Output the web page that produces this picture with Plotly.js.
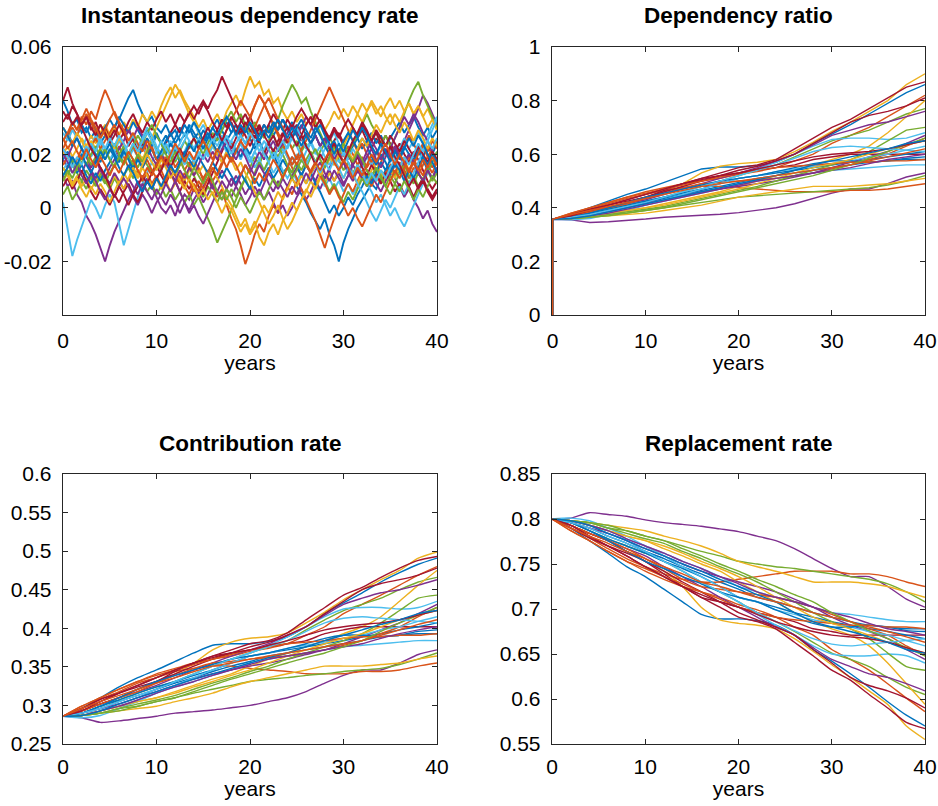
<!DOCTYPE html>
<html><head><meta charset="utf-8">
<script src="https://cdn.plot.ly/plotly-3.0.1.min.js"></script>
<style>html,body{margin:0;padding:0;background:#fff}#chart{width:938px;height:806px}</style>
</head><body><div id="chart"></div>
<script>
const lineColors = ['#0072BD','#D95319','#EDB120','#7E2F8E','#77AC30','#4DBEEE','#A2142F'];
const panelTitles = ['Instantaneous dependency rate','Dependency ratio','Contribution rate','Replacement rate'];
const xTickVals = [0,10,20,30,40];
const xTickText = ['0','10','20','30','40'];
const instTickVals = [-0.02,0,0.02,0.04,0.06];
const instTickText = ['-0.02','0','0.02','0.04','0.06'];
const ratioTickVals = [0,0.2,0.4,0.6,0.8,1];
const ratioTickText = ['0','0.2','0.4','0.6','0.8','1'];
const contribTickVals = [0.25,0.3,0.35,0.4,0.45,0.5,0.55,0.6];
const contribTickText = ['0.25','0.3','0.35','0.4','0.45','0.5','0.55','0.6'];
const replTickVals = [0.55,0.6,0.65,0.7,0.75,0.8,0.85];
const replTickText = ['0.55','0.6','0.65','0.7','0.75','0.8','0.85'];

const instYears = [0,0.5,1,1.5,2,2.5,3,3.5,4,4.5,5,5.5,6,6.5,7,7.5,8,8.5,9,9.5,10,10.5,11,11.5,12,12.5,13,13.5,14,14.5,15,15.5,16,16.5,17,17.5,18,18.5,19,19.5,20,20.5,21,21.5,22,22.5,23,23.5,24,24.5,25,25.5,26,26.5,27,27.5,28,28.5,29,29.5,30,30.5,31,31.5,32,32.5,33,33.5,34,34.5,35,35.5,36,36.5,37,37.5,38,38.5,39,39.5,40];

const instRate = [
[0.04,0.036,0.031,0.033,0.028,0.03,0.026,0.029,0.024,0.027,0.025,0.03,0.033,0.037,0.041,0.044,0.039,0.035,0.032,0.034,0.03,0.028,0.031,0.027,0.029,0.025,0.027,0.03,0.026,0.028,0.024,0.027,0.023,0.026,0.029,0.025,0.028,0.031,0.027,0.024,0.026,0.022,0.025,0.021,0.018,0.02,0.016,0.013,0.015,0.011,0.008,0.005,0.002,-0.002,-0.005,-0.008,-0.004,-0.01,-0.014,-0.02,-0.013,-0.008,-0.004,0,0.003,0.006,0.009,0.007,0.011,0.014,0.012,0.016,0.013,0.017,0.02,0.018,0.022,0.019,0.023,0.02,0.024],
[0.03,0.027,0.032,0.029,0.034,0.031,0.036,0.033,0.039,0.044,0.04,0.035,0.031,0.027,0.03,0.025,0.022,0.026,0.02,0.023,0.018,0.021,0.017,0.02,0.015,0.018,0.014,0.017,0.012,0.015,0.01,0.013,0.008,0.004,0.007,0.001,-0.004,-0.008,-0.014,-0.021,-0.016,-0.01,-0.006,-0.009,-0.003,0.001,-0.002,0.004,0.008,0.005,0.01,0.013,0.009,0.014,0.017,0.013,0.018,0.021,0.017,0.022,0.019,0.023,0.02,0.016,0.019,0.015,0.018,0.014,0.017,0.021,0.018,0.022,0.019,0.023,0.027,0.024,0.02,0.023,0.019,0.022,0.025],
[0.02,0.023,0.019,0.022,0.026,0.023,0.027,0.024,0.028,0.031,0.027,0.03,0.027,0.032,0.029,0.033,0.03,0.035,0.032,0.036,0.033,0.038,0.042,0.045,0.041,0.044,0.04,0.037,0.034,0.03,0.033,0.029,0.032,0.035,0.031,0.036,0.039,0.042,0.038,0.044,0.049,0.045,0.047,0.042,0.044,0.039,0.041,0.036,0.033,0.036,0.032,0.035,0.031,0.034,0.03,0.033,0.029,0.032,0.036,0.033,0.037,0.034,0.038,0.035,0.039,0.036,0.04,0.037,0.034,0.038,0.041,0.037,0.04,0.036,0.039,0.035,0.038,0.034,0.037,0.033,0.031],
[0.012,0.008,0.01,0.005,0.002,-0.003,-0.006,-0.01,-0.015,-0.02,-0.014,-0.009,-0.005,-0.001,0.003,0.006,0.01,0.007,0.011,0.008,0.004,0,-0.002,0.001,-0.003,0.002,0.005,0.003,0.007,0.004,0.008,0.011,0.007,0.01,0.014,0.011,0.008,0.012,0.009,0.005,0.008,0.004,0.007,0.003,0.006,0.002,-0.002,0.001,-0.003,0,0.004,0.007,0.003,0.006,0.01,0.007,0.011,0.014,0.01,0.013,0.009,0.012,0.016,0.013,0.017,0.014,0.01,0.013,0.009,0.012,0.015,0.011,0.008,0.004,0.007,0.003,0,-0.004,-0.001,-0.006,-0.009],
[0.005,0.008,0.003,0.006,0.01,0.007,0.012,0.009,0.013,0.01,0.007,0.011,0.008,0.012,0.015,0.011,0.014,0.01,0.006,0.009,0.005,0.008,0.004,0.007,0.003,0.006,0.002,0.005,0.001,0.004,0,-0.004,-0.008,-0.013,-0.009,-0.005,-0.001,0.003,0.007,0.011,0.015,0.019,0.016,0.021,0.025,0.029,0.033,0.038,0.042,0.046,0.043,0.039,0.041,0.036,0.032,0.028,0.024,0.027,0.022,0.018,0.014,0.017,0.013,0.016,0.012,0.009,0.013,0.01,0.014,0.011,0.015,0.012,0.016,0.013,0.009,0.012,0.008,0.011,0.014,0.01,0.013],
[0.002,-0.008,-0.018,-0.012,-0.007,-0.002,0.003,0,-0.004,0.001,0.005,0.002,-0.006,-0.014,-0.008,-0.002,0.004,0.009,0.013,0.017,0.014,0.018,0.015,0.019,0.022,0.018,0.021,0.025,0.022,0.019,0.023,0.02,0.024,0.021,0.017,0.021,0.025,0.022,0.018,0.022,0.019,0.015,0.018,0.014,0.017,0.021,0.018,0.014,0.011,0.014,0.01,0.013,0.009,0.012,0.016,0.012,0.008,0.011,0.007,0.01,0.006,0.009,0.005,0.008,0.012,0.009,0.006,0.002,0.005,0.001,-0.003,0,-0.004,-0.007,-0.003,0.001,0.005,0.009,0.013,0.017,0.021],
[0.04,0.045,0.039,0.035,0.031,0.034,0.029,0.032,0.027,0.03,0.026,0.029,0.025,0.028,0.023,0.026,0.021,0.024,0.019,0.022,0.018,0.021,0.024,0.028,0.031,0.035,0.032,0.036,0.033,0.037,0.04,0.037,0.041,0.044,0.049,0.045,0.041,0.037,0.033,0.03,0.034,0.03,0.027,0.031,0.028,0.032,0.029,0.033,0.03,0.026,0.029,0.025,0.028,0.024,0.027,0.023,0.026,0.022,0.025,0.028,0.024,0.027,0.03,0.026,0.029,0.025,0.022,0.026,0.023,0.027,0.024,0.021,0.024,0.02,0.017,0.021,0.018,0.014,0.01,0.007,0.01],
[0.025,0.028,0.024,0.027,0.031,0.028,0.032,0.029,0.026,0.03,0.033,0.03,0.034,0.031,0.028,0.032,0.029,0.026,0.029,0.025,0.028,0.024,0.027,0.023,0.026,0.03,0.027,0.031,0.028,0.025,0.029,0.026,0.03,0.033,0.029,0.032,0.028,0.031,0.027,0.03,0.026,0.029,0.025,0.028,0.031,0.027,0.03,0.033,0.029,0.032,0.028,0.031,0.027,0.024,0.027,0.023,0.026,0.022,0.025,0.021,0.024,0.02,0.023,0.026,0.022,0.025,0.028,0.024,0.027,0.023,0.026,0.029,0.032,0.028,0.031,0.034,0.03,0.027,0.03,0.026,0.029],
[0.022,0.026,0.03,0.027,0.031,0.035,0.032,0.028,0.031,0.027,0.024,0.02,0.023,0.019,0.015,0.018,0.014,0.01,0.013,0.009,0.012,0.008,0.011,0.015,0.012,0.016,0.019,0.015,0.018,0.014,0.011,0.014,0.01,0.013,0.017,0.02,0.024,0.021,0.025,0.029,0.033,0.038,0.042,0.039,0.035,0.031,0.027,0.023,0.019,0.015,0.011,0.007,0.003,-0.001,-0.005,-0.01,-0.015,-0.009,-0.004,0.001,0.005,0.009,0.006,0.01,0.014,0.011,0.008,0.012,0.009,0.013,0.016,0.013,0.017,0.014,0.011,0.015,0.012,0.016,0.019,0.015,0.018],
[0.01,0.013,0.009,0.012,0.008,0.011,0.007,0.01,0.014,0.011,0.008,0.012,0.009,0.013,0.01,0.014,0.011,0.015,0.012,0.008,0.011,0.007,0.01,0.006,0.009,0.013,0.01,0.014,0.017,0.013,0.016,0.012,0.015,0.011,0.008,0.004,0.001,-0.003,-0.007,-0.004,-0.009,-0.005,-0.011,-0.014,-0.009,-0.006,-0.01,-0.005,-0.002,0.002,-0.001,0.003,0.007,0.004,0.008,0.012,0.009,0.013,0.01,0.014,0.011,0.015,0.012,0.009,0.013,0.01,0.014,0.017,0.013,0.01,0.014,0.011,0.015,0.018,0.014,0.017,0.013,0.01,0.014,0.011,0.015],
[0.018,0.015,0.019,0.016,0.013,0.017,0.014,0.011,0.015,0.012,0.009,0.013,0.01,0.007,0.011,0.008,0.005,0.009,0.006,0.003,0.007,0.004,0.001,0.005,0.002,-0.002,0.002,-0.001,0.003,0.006,0.002,0.005,0.009,0.006,0.01,0.007,0.004,0.008,0.005,0.001,0.004,0.008,0.005,0.009,0.013,0.01,0.007,0.011,0.008,0.012,0.015,0.012,0.016,0.013,0.01,0.014,0.011,0.015,0.018,0.014,0.017,0.013,0.01,0.014,0.011,0.008,0.012,0.009,0.006,0.01,0.013,0.017,0.021,0.025,0.029,0.033,0.037,0.042,0.039,0.035,0.031],
[0.015,0.012,0.016,0.013,0.01,0.014,0.011,0.008,0.012,0.009,0.013,0.016,0.02,0.017,0.021,0.018,0.015,0.019,0.016,0.013,0.017,0.014,0.018,0.015,0.012,0.016,0.019,0.015,0.012,0.008,0.004,0.008,0.005,0.002,0.006,0.003,0.007,0.004,0.008,0.011,0.007,0.013,0.017,0.014,0.018,0.022,0.019,0.023,0.026,0.022,0.025,0.021,0.024,0.02,0.017,0.021,0.024,0.02,0.016,0.02,0.017,0.02,0.024,0.027,0.031,0.035,0.031,0.028,0.024,0.027,0.023,0.026,0.03,0.035,0.04,0.044,0.047,0.042,0.038,0.034,0.03],
[0.028,0.025,0.029,0.026,0.022,0.026,0.023,0.027,0.024,0.02,0.024,0.021,0.025,0.022,0.018,0.022,0.019,0.023,0.02,0.017,0.021,0.018,0.022,0.025,0.021,0.024,0.028,0.025,0.022,0.026,0.023,0.019,0.023,0.02,0.024,0.027,0.023,0.02,0.024,0.021,0.017,0.021,0.018,0.022,0.025,0.021,0.018,0.022,0.019,0.016,0.02,0.017,0.021,0.024,0.02,0.023,0.019,0.016,0.02,0.017,0.021,0.018,0.022,0.019,0.015,0.019,0.016,0.02,0.023,0.019,0.022,0.018,0.022,0.026,0.022,0.025,0.028,0.024,0.027,0.031,0.034],
[0.008,0.011,0.007,0.01,0.014,0.01,0.006,0.003,0.007,0.004,0.001,0.005,0.002,0.006,0.009,0.005,0.008,0.012,0.009,0.013,0.016,0.012,0.009,0.013,0.01,0.006,0.01,0.007,0.011,0.008,0.005,0.009,0.013,0.017,0.021,0.025,0.022,0.026,0.03,0.027,0.023,0.027,0.024,0.02,0.024,0.021,0.025,0.028,0.024,0.028,0.031,0.027,0.031,0.034,0.03,0.033,0.029,0.026,0.03,0.027,0.023,0.02,0.016,0.019,0.015,0.012,0.016,0.013,0.009,0.013,0.01,0.006,0.009,0.005,0.008,0.004,0.008,0.011,0.007,0.004,0.007],
[0.018,0.021,0.017,0.013,0.016,0.012,0.009,0.013,0.01,0.014,0.017,0.021,0.018,0.022,0.019,0.015,0.019,0.022,0.026,0.023,0.027,0.024,0.02,0.024,0.021,0.017,0.021,0.018,0.015,0.019,0.016,0.013,0.017,0.014,0.011,0.015,0.012,0.009,0.013,0.01,0.007,0.011,0.008,0.012,0.015,0.011,0.014,0.018,0.015,0.019,0.016,0.012,0.016,0.013,0.009,0.006,0.002,-0.002,0.001,-0.003,0,0.004,0.001,0.005,0.008,0.012,0.009,0.013,0.017,0.014,0.018,0.022,0.019,0.023,0.02,0.017,0.021,0.018,0.014,0.011,0.015],
[0.016,0.019,0.015,0.018,0.022,0.019,0.023,0.026,0.022,0.025,0.028,0.031,0.027,0.024,0.02,0.023,0.019,0.015,0.018,0.014,0.011,0.014,0.01,0.013,0.009,0.012,0.008,0.005,0.009,0.006,0.01,0.013,0.017,0.021,0.025,0.029,0.033,0.036,0.04,0.037,0.034,0.038,0.042,0.039,0.035,0.031,0.028,0.024,0.02,0.016,0.019,0.022,0.025,0.029,0.033,0.037,0.041,0.045,0.041,0.037,0.033,0.029,0.025,0.021,0.024,0.02,0.017,0.021,0.018,0.022,0.019,0.023,0.02,0.017,0.014,0.018,0.015,0.012,0.016,0.013,0.017],
[0.03,0.027,0.024,0.028,0.025,0.021,0.025,0.022,0.026,0.029,0.025,0.022,0.026,0.023,0.02,0.024,0.021,0.018,0.022,0.026,0.03,0.034,0.038,0.042,0.046,0.043,0.039,0.035,0.032,0.028,0.025,0.021,0.024,0.02,0.017,0.021,0.018,0.014,0.017,0.013,0.01,0.006,0.002,-0.002,-0.006,-0.003,0.001,-0.004,-0.008,-0.005,-0.001,0.003,0.006,0.01,0.007,0.011,0.015,0.018,0.022,0.019,0.023,0.027,0.031,0.035,0.032,0.036,0.039,0.035,0.038,0.034,0.031,0.035,0.032,0.036,0.039,0.035,0.038,0.034,0.03,0.033,0.029],
[0.022,0.019,0.023,0.026,0.022,0.019,0.015,0.018,0.014,0.011,0.015,0.018,0.022,0.025,0.029,0.026,0.03,0.027,0.023,0.019,0.016,0.02,0.017,0.013,0.01,0.006,0.002,-0.002,0.001,-0.003,-0.006,-0.002,0.002,0.006,0.003,0.007,0.011,0.008,0.012,0.016,0.013,0.017,0.021,0.018,0.022,0.025,0.021,0.024,0.028,0.031,0.027,0.03,0.034,0.031,0.027,0.023,0.026,0.022,0.018,0.021,0.017,0.013,0.017,0.02,0.016,0.019,0.022,0.018,0.015,0.019,0.022,0.026,0.03,0.034,0.031,0.035,0.032,0.028,0.025,0.021,0.018],
[0.012,0.015,0.018,0.014,0.017,0.02,0.016,0.019,0.022,0.018,0.021,0.024,0.02,0.023,0.019,0.016,0.02,0.017,0.021,0.025,0.022,0.019,0.023,0.02,0.017,0.021,0.025,0.022,0.026,0.023,0.02,0.024,0.028,0.025,0.029,0.033,0.036,0.032,0.035,0.031,0.028,0.032,0.029,0.026,0.03,0.027,0.023,0.02,0.016,0.013,0.017,0.014,0.018,0.021,0.017,0.013,0.01,0.006,0.009,0.005,0.002,0.006,0.003,0.007,0.011,0.008,0.012,0.015,0.011,0.008,0.012,0.009,0.013,0.016,0.012,0.009,0.013,0.01,0.014,0.017,0.021],
[0.014,0.017,0.013,0.016,0.02,0.023,0.019,0.022,0.026,0.022,0.018,0.021,0.017,0.02,0.024,0.027,0.023,0.026,0.03,0.027,0.023,0.02,0.024,0.021,0.018,0.022,0.025,0.029,0.032,0.028,0.031,0.027,0.024,0.028,0.024,0.021,0.025,0.028,0.024,0.02,0.017,0.021,0.024,0.02,0.017,0.013,0.016,0.02,0.023,0.027,0.03,0.026,0.022,0.025,0.021,0.018,0.022,0.025,0.028,0.024,0.02,0.017,0.013,0.009,0.006,0.002,-0.002,-0.005,-0.001,0.003,0,0.004,0.008,0.005,0.009,0.013,0.017,0.021,0.025,0.029,0.033],
[0.036,0.033,0.038,0.035,0.031,0.034,0.03,0.027,0.031,0.028,0.024,0.027,0.031,0.028,0.032,0.035,0.031,0.028,0.032,0.029,0.033,0.036,0.032,0.035,0.031,0.028,0.032,0.035,0.038,0.035,0.039,0.036,0.032,0.029,0.033,0.03,0.034,0.031,0.028,0.032,0.029,0.026,0.03,0.027,0.031,0.035,0.032,0.029,0.033,0.03,0.034,0.037,0.034,0.031,0.035,0.032,0.028,0.025,0.029,0.026,0.03,0.033,0.03,0.027,0.031,0.028,0.025,0.029,0.026,0.023,0.027,0.024,0.021,0.025,0.022,0.019,0.023,0.02,0.017,0.021,0.018],
[0.03,0.027,0.023,0.026,0.022,0.019,0.023,0.02,0.017,0.021,0.024,0.02,0.017,0.021,0.018,0.014,0.018,0.015,0.019,0.022,0.018,0.021,0.025,0.028,0.024,0.027,0.031,0.028,0.032,0.029,0.025,0.028,0.024,0.021,0.025,0.022,0.018,0.022,0.019,0.023,0.02,0.024,0.027,0.031,0.028,0.032,0.029,0.033,0.03,0.026,0.03,0.033,0.029,0.026,0.03,0.027,0.023,0.02,0.024,0.021,0.025,0.028,0.025,0.022,0.026,0.023,0.019,0.016,0.02,0.017,0.013,0.017,0.014,0.01,0.014,0.011,0.015,0.019,0.016,0.02,0.017],
[0.025,0.028,0.032,0.029,0.033,0.037,0.033,0.03,0.026,0.029,0.033,0.036,0.032,0.029,0.025,0.028,0.024,0.021,0.025,0.022,0.018,0.015,0.019,0.016,0.012,0.009,0.013,0.01,0.006,0.01,0.007,0.011,0.015,0.012,0.016,0.02,0.017,0.021,0.025,0.022,0.026,0.03,0.034,0.038,0.041,0.037,0.033,0.03,0.026,0.022,0.018,0.021,0.017,0.013,0.016,0.012,0.009,0.005,0.008,0.004,0.001,-0.003,0,-0.004,-0.007,-0.003,0.001,0.005,0.002,0.006,0.01,0.014,0.011,0.015,0.019,0.016,0.02,0.024,0.021,0.025,0.022],
[0.015,0.012,0.008,0.011,0.007,0.004,0.008,0.005,0.009,0.006,0.002,0.006,0.01,0.007,0.011,0.015,0.012,0.016,0.02,0.017,0.014,0.018,0.015,0.011,0.014,0.01,0.007,0.011,0.008,0.004,0.007,0.003,0.006,0.002,-0.002,0.002,-0.001,-0.005,-0.009,-0.006,-0.01,-0.007,-0.003,0.001,-0.002,0.002,0.006,0.003,0.007,0.011,0.008,0.012,0.009,0.013,0.016,0.012,0.015,0.019,0.016,0.02,0.017,0.021,0.018,0.022,0.026,0.023,0.027,0.031,0.028,0.032,0.035,0.031,0.028,0.032,0.029,0.025,0.029,0.026,0.022,0.026,0.023],
[0.02,0.017,0.013,0.016,0.012,0.009,0.013,0.01,0.006,0.003,0.007,0.004,0.008,0.011,0.008,0.004,0.001,0.005,0.002,-0.002,0.002,0.005,0.009,0.006,0.01,0.014,0.011,0.015,0.012,0.016,0.02,0.017,0.021,0.018,0.022,0.025,0.021,0.018,0.022,0.019,0.015,0.012,0.016,0.013,0.009,0.006,0.01,0.007,0.004,0.008,0.005,0.009,0.013,0.01,0.014,0.017,0.013,0.01,0.014,0.011,0.008,0.012,0.016,0.02,0.017,0.021,0.025,0.022,0.018,0.022,0.019,0.023,0.019,0.016,0.02,0.017,0.013,0.01,0.014,0.011,0.015],
[0.01,0.014,0.011,0.015,0.019,0.016,0.02,0.023,0.019,0.022,0.018,0.015,0.019,0.016,0.02,0.023,0.027,0.024,0.028,0.031,0.027,0.024,0.02,0.017,0.021,0.018,0.014,0.011,0.015,0.012,0.009,0.013,0.01,0.006,0.003,0.007,0.004,0,0.004,0.001,-0.002,0.002,0.006,0.003,0.007,0.011,0.008,0.012,0.015,0.011,0.014,0.018,0.015,0.019,0.022,0.018,0.015,0.019,0.023,0.02,0.024,0.02,0.017,0.021,0.018,0.014,0.011,0.015,0.012,0.008,0.005,0.009,0.006,0.01,0.007,0.003,0.007,0.004,0.008,0.012,0.009],
[0.022,0.019,0.015,0.019,0.016,0.02,0.024,0.021,0.025,0.022,0.026,0.023,0.027,0.024,0.02,0.024,0.021,0.025,0.028,0.025,0.021,0.025,0.022,0.019,0.023,0.02,0.016,0.02,0.017,0.021,0.018,0.022,0.026,0.023,0.027,0.024,0.02,0.024,0.027,0.024,0.028,0.025,0.021,0.025,0.022,0.018,0.022,0.025,0.022,0.026,0.023,0.019,0.016,0.02,0.017,0.013,0.017,0.014,0.018,0.015,0.011,0.015,0.012,0.016,0.013,0.009,0.013,0.01,0.014,0.011,0.015,0.018,0.015,0.019,0.016,0.02,0.024,0.021,0.025,0.022,0.026],
[0.032,0.035,0.031,0.034,0.03,0.026,0.022,0.019,0.015,0.012,0.008,0.004,0.008,0.005,0.001,0.005,0.002,0.006,0.01,0.007,0.011,0.014,0.018,0.015,0.019,0.022,0.019,0.023,0.026,0.022,0.026,0.03,0.026,0.029,0.025,0.029,0.032,0.028,0.032,0.035,0.031,0.028,0.031,0.027,0.024,0.027,0.023,0.027,0.03,0.027,0.023,0.027,0.023,0.02,0.016,0.02,0.017,0.021,0.024,0.02,0.017,0.021,0.025,0.028,0.032,0.029,0.025,0.028,0.024,0.02,0.023,0.019,0.016,0.012,0.008,0.011,0.007,0.01,0.006,0.003,0.006],
[0.012,0.015,0.019,0.016,0.02,0.016,0.013,0.017,0.021,0.018,0.022,0.019,0.015,0.012,0.016,0.013,0.009,0.006,0.01,0.007,0.011,0.008,0.012,0.016,0.013,0.017,0.02,0.024,0.021,0.025,0.022,0.026,0.03,0.027,0.031,0.034,0.031,0.027,0.031,0.028,0.032,0.029,0.025,0.029,0.026,0.03,0.033,0.029,0.026,0.03,0.027,0.023,0.027,0.024,0.028,0.031,0.027,0.024,0.02,0.024,0.021,0.025,0.029,0.026,0.03,0.027,0.023,0.02,0.024,0.021,0.017,0.021,0.018,0.022,0.026,0.023,0.027,0.024,0.02,0.017,0.013],
[0.026,0.022,0.025,0.021,0.018,0.022,0.018,0.015,0.019,0.016,0.012,0.016,0.013,0.017,0.021,0.018,0.014,0.011,0.015,0.012,0.016,0.019,0.016,0.02,0.024,0.021,0.017,0.021,0.018,0.022,0.025,0.022,0.018,0.022,0.019,0.015,0.019,0.016,0.012,0.016,0.013,0.009,0.013,0.01,0.014,0.018,0.015,0.011,0.015,0.019,0.016,0.02,0.016,0.013,0.017,0.014,0.018,0.021,0.017,0.014,0.018,0.015,0.011,0.015,0.012,0.016,0.02,0.017,0.021,0.024,0.02,0.016,0.02,0.017,0.013,0.017,0.014,0.018,0.015,0.019,0.016]
];

const ratioYears = [0,0,2,4,6,8,10,12,14,16,18,20,22,24,26,28,30,32,34,36,38,40];
const dependencyRatio = [
[0,0.357,0.375,0.40,0.425,0.45,0.47,0.495,0.52,0.545,0.552,0.552,0.558,0.57,0.60,0.64,0.675,0.71,0.75,0.79,0.83,0.86],
[0,0.357,0.38,0.40,0.42,0.44,0.46,0.475,0.49,0.50,0.51,0.525,0.535,0.55,0.575,0.60,0.64,0.67,0.70,0.74,0.78,0.82],
[0,0.357,0.37,0.385,0.40,0.42,0.44,0.46,0.49,0.53,0.555,0.565,0.57,0.58,0.61,0.645,0.685,0.72,0.76,0.80,0.86,0.90],
[0,0.357,0.355,0.345,0.348,0.352,0.358,0.365,0.368,0.372,0.376,0.382,0.39,0.40,0.415,0.435,0.455,0.47,0.47,0.49,0.515,0.53],
[0,0.357,0.365,0.38,0.395,0.41,0.425,0.44,0.46,0.48,0.50,0.52,0.54,0.56,0.59,0.62,0.65,0.67,0.69,0.72,0.75,0.77],
[0,0.357,0.36,0.37,0.385,0.40,0.42,0.44,0.46,0.48,0.50,0.52,0.545,0.57,0.60,0.63,0.655,0.66,0.66,0.655,0.66,0.68],
[0,0.357,0.375,0.39,0.41,0.43,0.45,0.47,0.49,0.51,0.53,0.55,0.56,0.58,0.62,0.66,0.70,0.73,0.77,0.81,0.85,0.87],
[0,0.357,0.365,0.375,0.39,0.405,0.42,0.435,0.45,0.465,0.48,0.495,0.51,0.52,0.53,0.54,0.55,0.56,0.57,0.575,0.585,0.59],
[0,0.357,0.375,0.395,0.415,0.435,0.45,0.465,0.475,0.48,0.48,0.475,0.47,0.465,0.46,0.46,0.46,0.465,0.465,0.47,0.48,0.49],
[0,0.357,0.36,0.37,0.38,0.39,0.40,0.415,0.43,0.445,0.46,0.48,0.50,0.52,0.54,0.56,0.58,0.60,0.63,0.68,0.74,0.80],
[0,0.357,0.37,0.385,0.40,0.415,0.43,0.45,0.47,0.49,0.51,0.53,0.55,0.575,0.60,0.635,0.67,0.69,0.71,0.72,0.74,0.76],
[0,0.357,0.36,0.365,0.375,0.38,0.39,0.40,0.41,0.42,0.43,0.44,0.445,0.45,0.455,0.46,0.465,0.47,0.475,0.485,0.50,0.52],
[0,0.357,0.355,0.36,0.375,0.39,0.41,0.425,0.44,0.455,0.47,0.49,0.50,0.51,0.52,0.53,0.54,0.545,0.55,0.555,0.56,0.56],
[0,0.357,0.37,0.385,0.40,0.42,0.44,0.465,0.49,0.51,0.52,0.53,0.54,0.55,0.56,0.58,0.59,0.60,0.60,0.60,0.60,0.60],
[0,0.357,0.365,0.38,0.395,0.41,0.425,0.44,0.455,0.47,0.49,0.51,0.52,0.53,0.54,0.55,0.56,0.57,0.58,0.59,0.60,0.61],
[0,0.357,0.37,0.385,0.40,0.415,0.435,0.455,0.475,0.49,0.495,0.50,0.505,0.51,0.52,0.53,0.545,0.56,0.58,0.60,0.63,0.66],
[0,0.357,0.36,0.365,0.37,0.375,0.38,0.39,0.40,0.41,0.425,0.44,0.45,0.46,0.47,0.48,0.48,0.48,0.485,0.49,0.50,0.51],
[0,0.357,0.365,0.375,0.385,0.40,0.415,0.43,0.445,0.46,0.47,0.48,0.49,0.50,0.515,0.53,0.55,0.57,0.59,0.61,0.64,0.67],
[0,0.357,0.36,0.365,0.375,0.385,0.395,0.405,0.42,0.435,0.45,0.465,0.48,0.50,0.52,0.54,0.56,0.58,0.61,0.65,0.69,0.70],
[0,0.357,0.36,0.37,0.38,0.395,0.41,0.43,0.45,0.47,0.49,0.51,0.52,0.535,0.545,0.555,0.565,0.575,0.59,0.60,0.615,0.63],
[0,0.357,0.375,0.395,0.41,0.425,0.44,0.46,0.48,0.50,0.52,0.54,0.555,0.575,0.60,0.64,0.68,0.72,0.745,0.76,0.78,0.81],
[0,0.357,0.365,0.38,0.40,0.42,0.44,0.455,0.47,0.485,0.50,0.51,0.52,0.535,0.55,0.565,0.575,0.575,0.57,0.575,0.58,0.58],
[0,0.357,0.38,0.40,0.42,0.44,0.455,0.47,0.485,0.50,0.515,0.53,0.54,0.55,0.555,0.56,0.565,0.57,0.57,0.575,0.575,0.58],
[0,0.357,0.36,0.37,0.38,0.39,0.40,0.41,0.425,0.44,0.455,0.47,0.49,0.51,0.53,0.55,0.565,0.58,0.60,0.62,0.635,0.65],
[0,0.357,0.36,0.37,0.38,0.395,0.41,0.425,0.44,0.455,0.47,0.485,0.50,0.51,0.52,0.53,0.54,0.55,0.565,0.58,0.59,0.60],
[0,0.357,0.36,0.365,0.37,0.38,0.39,0.40,0.415,0.43,0.445,0.46,0.475,0.49,0.505,0.52,0.54,0.56,0.585,0.61,0.635,0.66],
[0,0.357,0.365,0.375,0.39,0.405,0.42,0.44,0.46,0.48,0.50,0.52,0.54,0.56,0.585,0.61,0.625,0.63,0.625,0.62,0.615,0.61],
[0,0.357,0.37,0.39,0.41,0.43,0.45,0.47,0.49,0.505,0.52,0.53,0.545,0.56,0.575,0.59,0.60,0.605,0.61,0.62,0.635,0.65],
[0,0.357,0.36,0.37,0.385,0.40,0.415,0.43,0.445,0.46,0.475,0.49,0.505,0.52,0.54,0.56,0.575,0.59,0.605,0.62,0.64,0.65],
[0,0.357,0.375,0.39,0.405,0.42,0.435,0.45,0.465,0.48,0.49,0.50,0.51,0.52,0.53,0.54,0.55,0.56,0.575,0.59,0.605,0.62]
];

const years = [0,2,4,6,8,10,12,14,16,18,20,22,24,26,28,30,32,34,36,38,40];
const contributionRate = [
[0.286,0.296,0.310,0.324,0.336,0.346,0.357,0.368,0.378,0.380,0.380,0.383,0.389,0.402,0.419,0.433,0.446,0.460,0.472,0.483,0.491],
[0.286,0.299,0.310,0.321,0.331,0.341,0.348,0.355,0.360,0.364,0.370,0.374,0.380,0.391,0.402,0.419,0.431,0.443,0.456,0.469,0.480],
[0.286,0.293,0.302,0.310,0.321,0.331,0.341,0.355,0.372,0.382,0.387,0.389,0.394,0.407,0.421,0.437,0.450,0.463,0.475,0.491,0.499],
[0.286,0.284,0.278,0.280,0.283,0.286,0.290,0.292,0.294,0.297,0.300,0.305,0.310,0.318,0.329,0.339,0.346,0.346,0.355,0.366,0.372],
[0.286,0.290,0.299,0.307,0.316,0.324,0.331,0.341,0.351,0.360,0.368,0.376,0.384,0.398,0.411,0.423,0.431,0.439,0.450,0.460,0.466],
[0.286,0.287,0.293,0.302,0.310,0.321,0.331,0.341,0.351,0.360,0.368,0.378,0.389,0.402,0.415,0.425,0.427,0.427,0.425,0.427,0.435],
[0.286,0.296,0.305,0.316,0.326,0.336,0.346,0.355,0.364,0.372,0.380,0.384,0.394,0.411,0.427,0.443,0.453,0.466,0.478,0.488,0.493],
[0.286,0.290,0.296,0.305,0.313,0.321,0.329,0.336,0.344,0.351,0.357,0.364,0.368,0.372,0.376,0.380,0.384,0.389,0.391,0.396,0.398],
[0.286,0.296,0.308,0.318,0.329,0.336,0.344,0.348,0.351,0.351,0.348,0.346,0.344,0.341,0.341,0.341,0.344,0.344,0.346,0.351,0.355],
[0.286,0.287,0.293,0.299,0.305,0.310,0.318,0.326,0.334,0.341,0.351,0.360,0.368,0.376,0.384,0.393,0.402,0.415,0.435,0.456,0.475],
[0.286,0.293,0.302,0.310,0.318,0.326,0.336,0.346,0.355,0.364,0.372,0.380,0.391,0.402,0.417,0.431,0.439,0.446,0.450,0.456,0.463],
[0.286,0.287,0.290,0.296,0.299,0.305,0.310,0.316,0.321,0.326,0.331,0.334,0.336,0.339,0.341,0.344,0.346,0.348,0.353,0.360,0.368],
[0.286,0.284,0.287,0.296,0.305,0.316,0.324,0.331,0.339,0.346,0.355,0.360,0.364,0.368,0.372,0.376,0.378,0.380,0.382,0.384,0.384],
[0.286,0.293,0.302,0.310,0.321,0.331,0.344,0.355,0.364,0.368,0.372,0.376,0.380,0.384,0.393,0.398,0.402,0.402,0.402,0.402,0.402],
[0.286,0.290,0.299,0.307,0.316,0.324,0.331,0.339,0.346,0.355,0.364,0.368,0.372,0.376,0.380,0.384,0.389,0.393,0.398,0.402,0.407],
[0.286,0.293,0.302,0.310,0.318,0.329,0.339,0.348,0.355,0.357,0.360,0.362,0.364,0.368,0.372,0.378,0.384,0.393,0.402,0.415,0.427],
[0.286,0.287,0.290,0.293,0.296,0.299,0.305,0.310,0.316,0.324,0.331,0.336,0.341,0.346,0.351,0.351,0.351,0.353,0.355,0.360,0.364],
[0.286,0.290,0.296,0.302,0.310,0.318,0.326,0.334,0.341,0.346,0.351,0.355,0.360,0.366,0.372,0.380,0.389,0.398,0.407,0.419,0.431],
[0.286,0.287,0.290,0.296,0.302,0.307,0.313,0.321,0.329,0.336,0.344,0.351,0.360,0.368,0.376,0.384,0.393,0.407,0.423,0.439,0.443],
[0.286,0.287,0.293,0.299,0.307,0.316,0.326,0.336,0.346,0.355,0.364,0.368,0.374,0.378,0.382,0.387,0.391,0.398,0.402,0.409,0.415],
[0.286,0.296,0.308,0.316,0.324,0.331,0.341,0.351,0.360,0.368,0.376,0.382,0.391,0.402,0.419,0.435,0.450,0.458,0.463,0.469,0.478],
[0.286,0.290,0.299,0.310,0.321,0.331,0.339,0.346,0.353,0.360,0.364,0.368,0.374,0.380,0.387,0.391,0.391,0.389,0.391,0.393,0.393],
[0.286,0.299,0.310,0.321,0.331,0.339,0.346,0.353,0.360,0.366,0.372,0.376,0.380,0.382,0.384,0.387,0.389,0.389,0.391,0.391,0.393],
[0.286,0.287,0.293,0.299,0.305,0.310,0.316,0.324,0.331,0.339,0.346,0.355,0.364,0.372,0.380,0.387,0.393,0.402,0.411,0.417,0.423],
[0.286,0.287,0.293,0.299,0.307,0.316,0.324,0.331,0.339,0.346,0.353,0.360,0.364,0.368,0.372,0.376,0.380,0.387,0.393,0.398,0.402],
[0.286,0.287,0.290,0.293,0.299,0.305,0.310,0.318,0.326,0.334,0.341,0.348,0.355,0.362,0.368,0.376,0.384,0.396,0.407,0.417,0.427],
[0.286,0.290,0.296,0.305,0.313,0.321,0.331,0.341,0.351,0.360,0.368,0.376,0.384,0.396,0.407,0.413,0.415,0.413,0.411,0.409,0.407],
[0.286,0.293,0.305,0.316,0.326,0.336,0.346,0.355,0.362,0.368,0.372,0.378,0.384,0.391,0.398,0.402,0.405,0.407,0.411,0.417,0.423],
[0.286,0.287,0.293,0.302,0.310,0.318,0.326,0.334,0.341,0.348,0.355,0.362,0.368,0.376,0.384,0.391,0.398,0.405,0.411,0.419,0.423],
[0.286,0.296,0.305,0.313,0.321,0.329,0.336,0.344,0.351,0.355,0.360,0.364,0.368,0.372,0.376,0.380,0.384,0.391,0.398,0.405,0.411]
];

const replacementRate = [
[0.800,0.790,0.776,0.762,0.747,0.736,0.722,0.708,0.694,0.689,0.689,0.687,0.682,0.671,0.655,0.642,0.628,0.613,0.597,0.582,0.570],
[0.800,0.787,0.776,0.764,0.753,0.742,0.733,0.725,0.719,0.713,0.705,0.699,0.691,0.680,0.671,0.655,0.644,0.632,0.617,0.601,0.586],
[0.800,0.793,0.784,0.776,0.764,0.753,0.742,0.725,0.702,0.688,0.684,0.682,0.678,0.667,0.653,0.638,0.624,0.609,0.594,0.570,0.555],
[0.800,0.801,0.807,0.805,0.803,0.799,0.796,0.794,0.792,0.789,0.786,0.781,0.776,0.767,0.756,0.745,0.736,0.736,0.725,0.711,0.702],
[0.800,0.796,0.787,0.778,0.770,0.762,0.753,0.742,0.730,0.719,0.708,0.696,0.686,0.675,0.663,0.651,0.644,0.636,0.624,0.613,0.605],
[0.800,0.798,0.793,0.784,0.776,0.764,0.753,0.742,0.730,0.719,0.708,0.694,0.682,0.671,0.659,0.650,0.648,0.648,0.650,0.648,0.640],
[0.800,0.790,0.781,0.770,0.759,0.747,0.736,0.725,0.713,0.702,0.691,0.686,0.678,0.663,0.648,0.632,0.621,0.605,0.590,0.574,0.567],
[0.800,0.796,0.790,0.781,0.773,0.764,0.756,0.747,0.739,0.730,0.722,0.713,0.708,0.702,0.696,0.691,0.686,0.682,0.680,0.676,0.675],
[0.800,0.790,0.779,0.767,0.756,0.747,0.739,0.733,0.730,0.730,0.733,0.736,0.739,0.742,0.742,0.742,0.739,0.739,0.736,0.730,0.725],
[0.800,0.798,0.793,0.787,0.781,0.776,0.767,0.759,0.750,0.742,0.730,0.719,0.708,0.696,0.686,0.678,0.671,0.659,0.640,0.617,0.594],
[0.800,0.793,0.784,0.776,0.767,0.759,0.747,0.736,0.725,0.713,0.702,0.691,0.680,0.671,0.657,0.644,0.636,0.628,0.624,0.617,0.609],
[0.800,0.798,0.796,0.790,0.787,0.781,0.776,0.770,0.764,0.759,0.753,0.750,0.747,0.745,0.742,0.739,0.736,0.733,0.728,0.719,0.708],
[0.800,0.801,0.798,0.790,0.781,0.770,0.762,0.753,0.745,0.736,0.725,0.719,0.713,0.708,0.702,0.696,0.694,0.691,0.688,0.686,0.686],
[0.800,0.793,0.784,0.776,0.764,0.753,0.739,0.725,0.713,0.708,0.702,0.696,0.691,0.686,0.678,0.675,0.671,0.671,0.671,0.671,0.671],
[0.800,0.796,0.787,0.778,0.770,0.762,0.753,0.745,0.736,0.725,0.713,0.708,0.702,0.696,0.691,0.686,0.682,0.678,0.675,0.671,0.667],
[0.800,0.793,0.784,0.776,0.767,0.756,0.745,0.733,0.725,0.722,0.719,0.716,0.713,0.708,0.702,0.694,0.686,0.678,0.671,0.659,0.648],
[0.800,0.798,0.796,0.793,0.790,0.787,0.781,0.776,0.770,0.762,0.753,0.747,0.742,0.736,0.730,0.730,0.730,0.728,0.725,0.719,0.713],
[0.800,0.796,0.790,0.784,0.776,0.767,0.759,0.750,0.742,0.736,0.730,0.725,0.719,0.711,0.702,0.691,0.682,0.675,0.667,0.655,0.644],
[0.800,0.798,0.796,0.790,0.784,0.778,0.773,0.764,0.756,0.747,0.739,0.730,0.719,0.708,0.696,0.686,0.678,0.667,0.651,0.636,0.632],
[0.800,0.798,0.793,0.787,0.778,0.770,0.759,0.747,0.736,0.725,0.713,0.708,0.699,0.694,0.688,0.684,0.680,0.675,0.671,0.665,0.659],
[0.800,0.790,0.779,0.770,0.762,0.753,0.742,0.730,0.719,0.708,0.696,0.688,0.680,0.671,0.655,0.640,0.624,0.615,0.609,0.601,0.590],
[0.800,0.796,0.787,0.776,0.764,0.753,0.745,0.736,0.728,0.719,0.713,0.708,0.699,0.691,0.684,0.680,0.680,0.682,0.680,0.678,0.678],
[0.800,0.787,0.776,0.764,0.753,0.745,0.736,0.728,0.719,0.711,0.702,0.696,0.691,0.688,0.686,0.684,0.682,0.682,0.680,0.680,0.678],
[0.800,0.798,0.793,0.787,0.781,0.776,0.770,0.762,0.753,0.745,0.736,0.725,0.713,0.702,0.691,0.684,0.678,0.671,0.663,0.657,0.651],
[0.800,0.798,0.793,0.787,0.778,0.770,0.762,0.753,0.745,0.736,0.728,0.719,0.713,0.708,0.702,0.696,0.691,0.684,0.678,0.675,0.671],
[0.800,0.798,0.796,0.793,0.787,0.781,0.776,0.767,0.759,0.750,0.742,0.733,0.725,0.716,0.708,0.696,0.686,0.676,0.667,0.657,0.648],
[0.800,0.796,0.790,0.781,0.773,0.764,0.753,0.742,0.730,0.719,0.708,0.696,0.686,0.676,0.667,0.661,0.659,0.661,0.663,0.665,0.667],
[0.800,0.793,0.781,0.770,0.759,0.747,0.736,0.725,0.716,0.708,0.702,0.694,0.686,0.680,0.675,0.671,0.669,0.667,0.663,0.657,0.651],
[0.800,0.798,0.793,0.784,0.776,0.767,0.759,0.750,0.742,0.733,0.725,0.716,0.708,0.696,0.686,0.680,0.675,0.669,0.663,0.655,0.651],
[0.800,0.790,0.781,0.773,0.764,0.756,0.747,0.739,0.730,0.725,0.719,0.713,0.708,0.702,0.696,0.691,0.686,0.680,0.675,0.669,0.663]
];

const FONT = 'Liberation Sans, Arial, Helvetica, sans-serif';
const INK = '#262626';
const traces = [];
function addPaths(xs, rows, ax, w, shape) {
  rows.forEach((ys, i) => traces.push({
    x: xs, y: ys, xaxis: 'x' + ax, yaxis: 'y' + ax, type: 'scatter', mode: 'lines',
    line: {color: lineColors[i % lineColors.length], width: w, shape: shape, smoothing: 0.6}, hoverinfo: 'skip'
  }));
}
addPaths(instYears, instRate, '', 1.9, 'linear');
addPaths(ratioYears, dependencyRatio, '2', 1.4, 'linear');
addPaths(years, contributionRate, '3', 1.4, 'spline');
addPaths(years, replacementRate, '4', 1.4, 'spline');

const xL = [63/938, 437/938], xR = [552/938, 925/938];
const yT = [1-315/806, 1-47/806], yB = [1-744/806, 1-474/806];

function xAxis(dom, anchor, standoff, range, layer) {
  return {domain: dom, anchor: anchor, range: range, tickvals: xTickVals, ticktext: xTickText,
    ticks: 'inside', ticklen: 5, tickwidth: 1, tickcolor: INK, showline: true, linecolor: INK, linewidth: 1.3,
    mirror: 'allticks', showgrid: false, zeroline: false, ticklabelstandoff: standoff, layer: layer,
    tickfont: {family: FONT, size: 21, color: '#000'},
    title: {text: 'years', font: {family: FONT, size: 21, color: '#000'}, standoff: 3}};
}
function yAxis(dom, anchor, range, tv, tt, layer) {
  return {domain: dom, anchor: anchor, range: range, tickvals: tv, ticktext: tt,
    ticks: 'inside', ticklen: 5, tickwidth: 1, tickcolor: INK, showline: true, linecolor: INK, linewidth: 1.3,
    mirror: 'allticks', showgrid: false, zeroline: false, ticklabelstandoff: 6, layer: layer,
    tickfont: {family: FONT, size: 21, color: '#000'}};
}

const layout = {
  width: 938, height: 806, margin: {l: 0, r: 0, t: 0, b: 0},
  paper_bgcolor: '#fff', plot_bgcolor: '#fff', showlegend: false, hovermode: false,
  xaxis: xAxis(xL, 'y', 6, [0, 40], 'above traces'),
  yaxis: yAxis(yT, 'x', [-0.04, 0.06], instTickVals, instTickText, 'above traces'),
  xaxis2: xAxis(xR, 'y2', 6, [-0.06, 40], 'below traces'),
  yaxis2: yAxis(yT, 'x2', [0, 1], ratioTickVals, ratioTickText, 'below traces'),
  xaxis3: xAxis(xL, 'y3', 3, [0, 40], 'above traces'),
  yaxis3: yAxis(yB, 'x3', [0.25, 0.6], contribTickVals, contribTickText, 'above traces'),
  xaxis4: xAxis(xR, 'y4', 3, [0, 40], 'above traces'),
  yaxis4: yAxis(yB, 'x4', [0.55, 0.85], replTickVals, replTickText, 'above traces'),
  annotations: [
    {text: '<b>' + panelTitles[0] + '</b>', x: (xL[0]+xL[1])/2, y: 1-15/806},
    {text: '<b>' + panelTitles[1] + '</b>', x: (xR[0]+xR[1])/2, y: 1-15/806},
    {text: '<b>' + panelTitles[2] + '</b>', x: (xL[0]+xL[1])/2, y: 1-443/806},
    {text: '<b>' + panelTitles[3] + '</b>', x: (xR[0]+xR[1])/2, y: 1-443/806}
  ].map(a => Object.assign(a, {xref: 'paper', yref: 'paper', xanchor: 'center', yanchor: 'middle',
    showarrow: false, font: {family: FONT, size: 22.5, color: '#000'}}))
};
Plotly.newPlot('chart', traces, layout, {displayModeBar: false, staticPlot: true});
</script>
</body></html>
